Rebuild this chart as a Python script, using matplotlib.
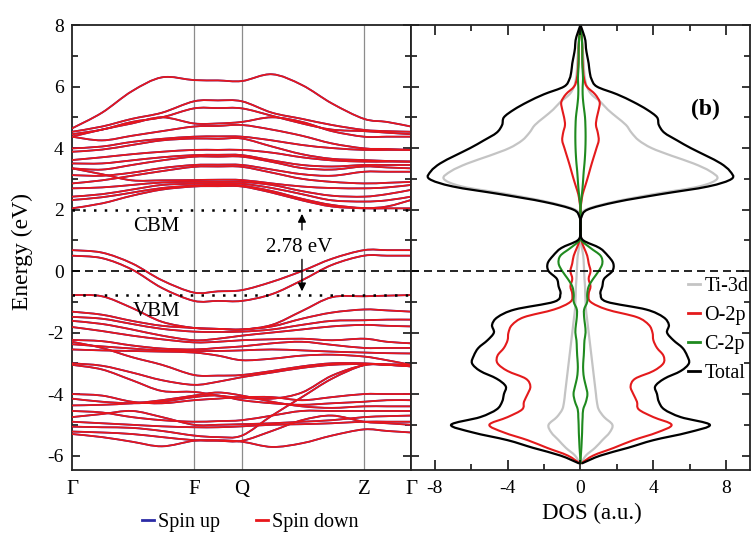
import numpy as np
import matplotlib.pyplot as plt
from matplotlib.lines import Line2D
from matplotlib.path import Path
from matplotlib.patches import PathPatch
from matplotlib.ticker import MultipleLocator

plt.rcParams['font.family'] = ['Liberation Serif', 'DejaVu Serif']
plt.rcParams['axes.unicode_minus'] = False

# ---- band structure data ----
k_labels = ['Γ', 'F', 'Q', 'Z', 'Γ']
k_ticks = [0.0, 1.22, 1.70, 2.92, 3.39]
k_path = [0.0, 0.3, 0.6, 0.9, 1.22, 1.46, 1.70, 2.0, 2.3, 2.6, 2.92, 3.15, 3.39]

conduction_bands = [
    [4.64, 5.15, 5.85, 6.30, 6.21, 6.20, 6.18, 6.40, 6.05, 5.45, 4.95, 4.85, 4.70],
    [4.53, 4.70, 4.95, 5.15, 5.52, 5.55, 5.52, 5.15, 4.95, 4.75, 4.59, 4.55, 4.53],
    [4.45, 4.60, 4.85, 5.00, 5.29, 5.30, 5.29, 5.05, 4.80, 4.60, 4.55, 4.50, 4.45],
    [4.37, 4.60, 4.80, 5.00, 4.80, 4.80, 4.85, 5.00, 4.85, 4.55, 4.37, 4.37, 4.37],
    [4.37, 4.25, 4.40, 4.55, 4.70, 4.72, 4.75, 4.60, 4.40, 4.15, 3.99, 3.97, 3.94],
    [3.99, 4.05, 4.20, 4.30, 4.37, 4.38, 4.37, 4.25, 4.10, 4.00, 3.94, 3.94, 3.94],
    [3.88, 3.95, 4.10, 4.25, 4.31, 4.30, 4.31, 4.05, 3.80, 3.65, 3.61, 3.58, 3.56],
    [3.61, 3.70, 3.80, 3.88, 3.94, 3.94, 3.94, 3.85, 3.70, 3.60, 3.56, 3.56, 3.56],
    [3.50, 3.50, 3.60, 3.70, 3.77, 3.78, 3.77, 3.60, 3.45, 3.40, 3.45, 3.45, 3.45],
    [3.34, 3.30, 3.45, 3.60, 3.72, 3.72, 3.72, 3.55, 3.35, 3.30, 3.40, 3.37, 3.34],
    [3.12, 3.10, 3.20, 3.35, 3.45, 3.46, 3.45, 3.30, 3.15, 3.10, 3.23, 3.23, 3.23],
    [2.85, 2.95, 3.10, 3.25, 3.39, 3.40, 3.39, 3.20, 3.00, 2.90, 2.85, 2.87, 2.90],
    [3.34, 3.15, 2.95, 2.95, 2.96, 2.97, 2.96, 2.85, 2.75, 2.70, 2.69, 2.72, 2.80],
    [2.69, 2.72, 2.80, 2.88, 2.90, 2.90, 2.90, 2.80, 2.60, 2.45, 2.42, 2.50, 2.64],
    [2.42, 2.50, 2.65, 2.80, 2.84, 2.85, 2.84, 2.70, 2.50, 2.30, 2.26, 2.30, 2.42],
    [2.31, 2.40, 2.55, 2.70, 2.78, 2.80, 2.78, 2.60, 2.35, 2.15, 2.05, 2.10, 2.31],
    [2.04, 2.20, 2.45, 2.65, 2.75, 2.76, 2.75, 2.55, 2.30, 2.10, 2.04, 2.04, 2.04],
]

valence_bands = [
    [0.68, 0.60, 0.25, -0.30, -0.70, -0.66, -0.62, -0.35, 0.00, 0.40, 0.68, 0.68, 0.68],
    [0.50, 0.42, 0.05, -0.55, -0.97, -0.97, -0.97, -0.75, -0.30, 0.20, 0.50, 0.50, 0.50],
    [-0.78, -0.82, -1.20, -1.65, -1.85, -1.88, -1.90, -1.75, -1.30, -0.85, -0.82, -0.80, -0.78],
    [-1.32, -1.42, -1.62, -1.78, -1.85, -1.88, -1.90, -1.80, -1.55, -1.35, -1.25, -1.28, -1.32],
    [-1.49, -1.55, -1.72, -1.88, -1.97, -1.98, -1.97, -1.90, -1.75, -1.62, -1.60, -1.58, -1.58],
    [-1.62, -1.72, -1.90, -2.10, -2.25, -2.20, -2.10, -2.00, -1.90, -1.80, -1.75, -1.78, -1.80],
    [-1.82, -1.95, -2.10, -2.22, -2.32, -2.30, -2.25, -2.22, -2.20, -2.25, -2.20, -2.30, -2.35],
    [-2.24, -2.28, -2.42, -2.52, -2.55, -2.50, -2.45, -2.35, -2.30, -2.40, -2.50, -2.50, -2.50],
    [-2.38, -2.45, -2.52, -2.58, -2.60, -2.60, -2.58, -2.55, -2.58, -2.62, -2.65, -2.67, -2.68],
    [-2.55, -2.58, -2.60, -2.62, -2.65, -2.75, -2.90, -2.85, -2.75, -2.72, -2.78, -2.90, -3.05],
    [-2.30, -2.50, -2.80, -3.05, -3.38, -3.40, -3.38, -3.25, -3.10, -3.00, -3.00, -3.05, -3.10],
    [-3.00, -3.08, -3.30, -3.55, -3.70, -3.60, -3.45, -3.30, -3.15, -3.05, -3.02, -3.03, -3.05],
    [-3.05, -3.20, -3.55, -3.90, -3.93, -4.05, -4.12, -4.15, -3.95, -3.40, -3.06, -3.05, -3.05],
    [-4.00, -4.05, -4.25, -4.30, -4.20, -4.15, -4.10, -4.10, -4.20, -4.10, -4.00, -4.00, -4.00],
    [-4.15, -4.25, -4.30, -4.25, -4.10, -4.05, -4.20, -4.30, -4.35, -4.30, -4.25, -4.20, -4.20],
    [-4.37, -4.35, -4.30, -4.20, -4.05, -3.95, -4.05, -4.25, -4.40, -4.45, -4.40, -4.40, -4.40],
    [-4.55, -4.60, -4.75, -4.85, -4.90, -4.88, -4.85, -4.70, -4.55, -4.55, -4.55, -4.55, -4.55],
    [-4.75, -4.65, -4.55, -4.75, -5.00, -5.00, -4.98, -4.95, -4.90, -4.85, -4.75, -4.72, -4.70],
    [-4.90, -4.95, -5.00, -5.05, -5.08, -5.08, -5.05, -5.00, -4.98, -4.95, -4.90, -4.90, -4.90],
    [-5.06, -5.08, -5.10, -5.20, -5.35, -5.40, -5.35, -4.70, -4.10, -3.50, -3.06, -3.05, -3.10],
    [-5.22, -5.25, -5.30, -5.40, -5.50, -5.52, -5.52, -5.20, -4.85, -4.70, -4.90, -4.95, -5.00],
    [-5.30, -5.40, -5.55, -5.70, -5.52, -5.50, -5.55, -5.72, -5.60, -5.35, -5.15, -5.20, -5.25],
]

cbm = 2.0
vbm = -0.78

# ---- projected DOS data (a.u.) ----
energy = np.arange(-6.25, 8.01, 0.25)
dos_total = [0.1, 1.1, 2.6, 4.0, 5.9, 7.1, 5.5, 4.6, 4.3, 4.2, 4.1, 4.6, 5.5, 5.95, 5.85,
             5.6, 5.1, 4.75, 4.85, 4.55, 3.6, 1.45, 1.1, 1.2, 1.3,
             1.75, 1.8, 1.5, 1.05, 0.15, 0.0, 0.0, 0.05, 0.4, 2.0, 4.4, 7.0, 8.3, 8.2, 7.7,
             6.9, 6.05, 5.3, 4.6, 4.3, 4.2, 3.65, 2.9, 2.0, 0.9, 0.6, 0.5, 0.45, 0.37,
             0.3, 0.27, 0.15, 0.0]
dos_ti3d = [0.05, 0.3, 0.8, 1.2, 1.6, 1.75, 1.3, 1.0, 0.9, 0.85, 0.8, 0.75, 0.7, 0.65, 0.6,
            0.55, 0.5, 0.45, 0.4, 0.35, 0.3, 0.28, 0.26, 0.25, 0.22,
            0.2, 0.18, 0.15, 0.08, 0.02, 0.0, 0.0, 0.0, 0.3, 1.8, 4.0, 6.5, 7.5, 7.1, 6.2,
            5.0, 3.9, 3.2, 2.8, 2.5, 2.0, 1.5, 1.1, 0.6, 0.35, 0.25, 0.2, 0.18, 0.15,
            0.12, 0.1, 0.05, 0.0]
dos_o2p = [0.05, 0.7, 1.83, 2.9, 4.2, 5.0, 4.0, 3.2, 3.1, 2.9, 2.75, 3.0, 4.0, 4.55, 4.55,
           4.2, 4.0, 3.95, 3.75, 3.1, 1.45, 0.55, 0.45, 0.55, 0.45,
           0.55, 0.45, 0.37, 0.2, 0.05, 0.0, 0.0, 0.0, 0.0, 0.05, 0.12, 0.25, 0.38, 0.5, 0.62,
           0.75, 0.88, 1.0, 0.95, 0.85, 0.9, 1.0, 1.05, 0.8, 0.35, 0.2, 0.15, 0.12, 0.1,
           0.1, 0.08, 0.05, 0.0]
dos_c2p = [0.0, 0.02, 0.05, 0.07, 0.09, 0.1, 0.12, 0.15, 0.3, 0.38, 0.3, 0.2, 0.15, 0.15, 0.18,
           0.2, 0.22, 0.28, 0.25, 0.2, 0.2, 0.37, 0.37, 0.45, 0.7,
           1.0, 1.2, 1.1, 0.55, 0.05, 0.0, 0.0, 0.0, 0.0, 0.03, 0.08, 0.12, 0.15, 0.18, 0.22,
           0.25, 0.27, 0.28, 0.28, 0.27, 0.25, 0.2, 0.15, 0.12, 0.12, 0.14, 0.12, 0.1, 0.1,
           0.1, 0.08, 0.05, 0.0]

spin_up_color = '#2b2ba6'
spin_down_color = '#e8161b'
ti_color = '#c4c4c4'
o_color = '#e41a1c'
c_color = '#1f8a1f'


def smooth_line(ax, x, y, **kw):
    # draw a curve through the points as a chain of cubic Bezier segments
    pts = np.column_stack([x, y]).astype(float)
    ext = np.vstack([pts[0], pts, pts[-1]])
    verts = [pts[0]]
    codes = [Path.MOVETO]
    for i in range(len(pts) - 1):
        p0, p1, p2, p3 = ext[i], ext[i + 1], ext[i + 2], ext[i + 3]
        verts += [p1 + (p2 - p0) / 6, p2 - (p3 - p1) / 6, p2]
        codes += [Path.CURVE4] * 3
    ax.add_patch(PathPatch(Path(verts, codes), fill=False, capstyle='round',
                           joinstyle='round', **kw))


fig = plt.figure(figsize=(7.52, 5.38), dpi=100)
ax1 = fig.add_axes([0.0957, 0.1264, 0.4508, 0.827])
ax2 = fig.add_axes([0.5465, 0.1264, 0.4508, 0.827])

# band structure: spin up underneath, spin down on top
for band in conduction_bands + valence_bands:
    smooth_line(ax1, k_path, band, edgecolor=spin_up_color, lw=1.3, zorder=2)
for band in conduction_bands + valence_bands:
    smooth_line(ax1, k_path, band, edgecolor=spin_down_color, lw=1.25, zorder=3)

for k in k_ticks[1:-1]:
    ax1.axvline(k, color='#8c8c8c', lw=0.9, zorder=1)

ax1.axhline(cbm, color='black', lw=1.8, ls=(0, (1, 3.3)), zorder=4)
ax1.axhline(vbm, color='black', lw=1.8, ls=(0, (1, 3.3)), zorder=4)
ax1.axhline(0, color='black', lw=1.2, ls=(0, (4.8, 3)), zorder=4)

ax1.text(0.84, cbm - 0.55, 'CBM', fontsize=15, ha='center', va='center')
ax1.text(0.85, vbm - 0.53, 'VBM', fontsize=15, ha='center', va='center')

# band gap arrows
k_gap = 2.30
ax1.annotate('', xy=(k_gap, cbm - 0.05), xytext=(k_gap, cbm - 0.75),
             arrowprops=dict(arrowstyle='-|>', color='black', lw=1.0, mutation_scale=12))
ax1.annotate('', xy=(k_gap, vbm + 0.03), xytext=(k_gap, vbm + 1.25),
             arrowprops=dict(arrowstyle='-|>', color='black', lw=1.0, mutation_scale=12))
ax1.text(k_gap - 0.03, 0.78, f'{cbm - vbm:.2f} eV', fontsize=15, ha='center', va='center')

ax1.set_xlim(k_ticks[0], k_ticks[-1])
ax1.set_ylim(-6.47, 8)
ax1.set_xticks(k_ticks)
ax1.set_xticklabels(k_labels)
ax1.yaxis.set_major_locator(MultipleLocator(2))
ax1.yaxis.set_minor_locator(MultipleLocator(1))
ax1.tick_params(axis='x', length=0, pad=7, labelsize=15)
ax1.tick_params(axis='y', which='both', direction='in', left=True, right=True, labelsize=14, pad=6)
ax1.tick_params(axis='y', which='major', length=6, width=1.1)
ax1.tick_params(axis='y', which='minor', length=4, width=1.1)

# DOS panel, spin up on the right and spin down mirrored on the left
for dos, color, lw in [(dos_ti3d, ti_color, 1.6), (dos_o2p, o_color, 1.5),
                       (dos_c2p, c_color, 1.5), (dos_total, 'black', 1.6)]:
    smooth_line(ax2, dos, energy, edgecolor=color, lw=lw)
    smooth_line(ax2, [-v for v in dos], energy, edgecolor=color, lw=lw)
ax2.axhline(0, color='black', lw=1.2, ls=(0, (4.8, 3)))

ax2.set_xlim(-9.3, 9.3)
ax2.set_ylim(-6.47, 8)
ax2.xaxis.set_major_locator(MultipleLocator(4))
ax2.xaxis.set_minor_locator(MultipleLocator(2))
ax2.yaxis.set_major_locator(MultipleLocator(2))
ax2.yaxis.set_minor_locator(MultipleLocator(1))
ax2.tick_params(axis='both', which='both', direction='in', top=True, right=True, left=True,
                labelleft=False, labelsize=14)
ax2.tick_params(axis='x', which='major', length=7, width=1.1, pad=7)
ax2.tick_params(axis='x', which='minor', length=4, width=1.1)
ax2.tick_params(axis='y', which='major', length=6, width=1.1)
ax2.tick_params(axis='y', which='minor', length=4, width=1.1)
ax2.set_xticks([-8, -4, 0, 4, 8])
ax2.set_xticklabels(['-8', '-4', '0', '4', '8'])

for ax in (ax1, ax2):
    for sp in ax.spines.values():
        sp.set_linewidth(1.3)
        sp.set_color('#222222')

ax2.text(0.87, 0.81, '(b)', transform=ax2.transAxes, fontsize=17, fontweight='bold',
         ha='center', va='center')

pdos_handles = [Line2D([], [], color=ti_color, lw=2), Line2D([], [], color=o_color, lw=2),
                Line2D([], [], color=c_color, lw=2), Line2D([], [], color='black', lw=2)]
ax2.legend(pdos_handles, ['Ti-3d', 'O-2p', 'C-2p', 'Total'], loc='center right',
           bbox_to_anchor=(0.995, 0.315), frameon=False, fontsize=14.5, handlelength=0.6,
           handletextpad=0.2, labelspacing=0.5, borderpad=0, borderaxespad=0)

spin_handles = [Line2D([], [], color=spin_up_color, lw=2), Line2D([], [], color=spin_down_color, lw=2)]
fig.legend(spin_handles, ['Spin up', 'Spin down'], loc='center', bbox_to_anchor=(250 / 752, 1 - 522 / 538),
           ncol=2, frameon=False, fontsize=14.5, handlelength=0.6, handletextpad=0.2, columnspacing=1.8)

fig.text(22 / 752, 1 - 251 / 538, 'Energy (eV)', rotation=90, ha='center', va='center', fontsize=17)
fig.text(592 / 752, 1 - 513 / 538, 'DOS (a.u.)', ha='center', va='center', fontsize=16.5)

fig.savefig('out.png', dpi=100)
